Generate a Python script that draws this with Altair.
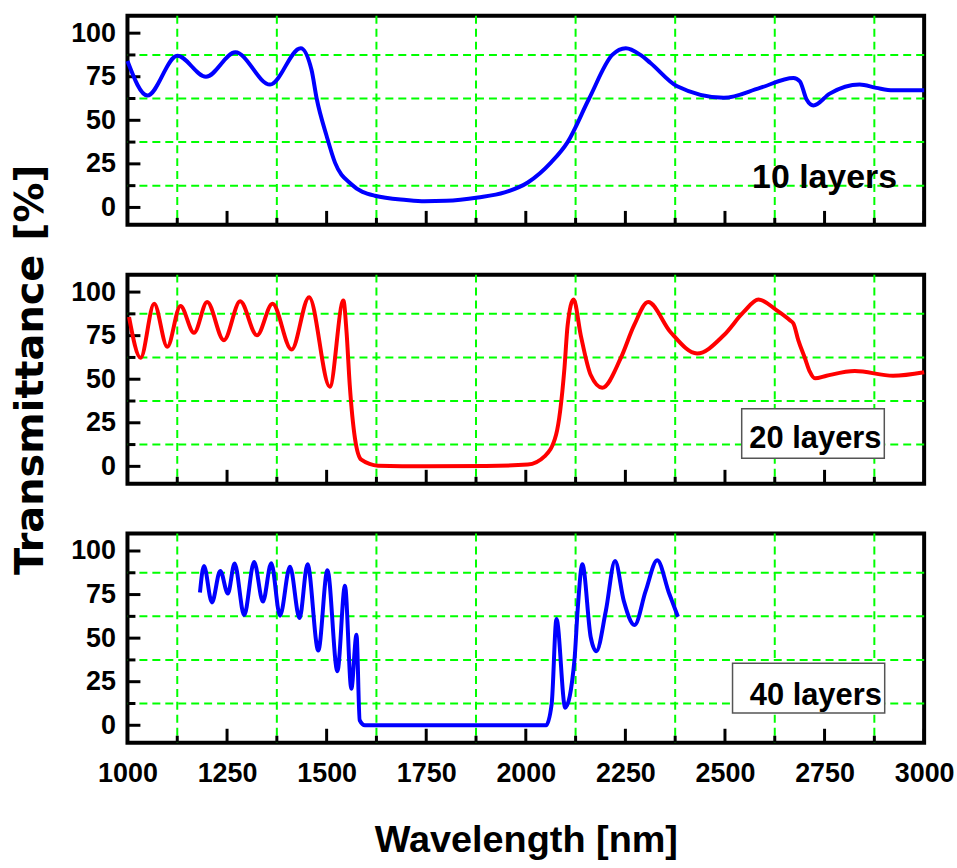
import altair as alt
import pandas as pd

# ---------------- data ----------------
wl_10 = [1000, 1050, 1125, 1197, 1271, 1358, 1435, 1462, 1475, 1500, 1521, 1562, 1621,
         1700, 1746, 1800, 1880, 1947, 2005, 2063, 2105, 2159, 2217, 2251, 2288, 2313,
         2380, 2497, 2588, 2672, 2688, 2705, 2722, 2763, 2838, 2880, 2922, 3000]
t_10 = [84, 64.2, 87, 75, 89, 70.5, 91.4, 79, 62.5, 41, 25.7, 13.3, 6.7,
        4.3, 3.6, 3.8, 5.7, 8.6, 14.3, 25.7, 37.5, 62.5, 87.5, 91.4, 87.5, 82.9,
        69.5, 62.9, 68.6, 74.3, 72.4, 61.9, 58.5, 65.3, 70.5, 68.6, 67.2, 67.2]

wl_20 = [1004, 1033, 1067, 1100, 1133, 1167, 1200, 1242, 1283, 1325, 1364, 1412, 1456,
         1508, 1542, 1550, 1558, 1571, 1587, 1629, 1750, 1900, 2005, 2047, 2076,
         2097, 2105, 2120, 2138, 2163, 2192, 2238, 2272, 2307, 2363, 2430, 2497, 2547,
         2584, 2630, 2663, 2672, 2684, 2701, 2713, 2726, 2755, 2826, 2922, 3000]
t_20 = [85.7, 62.3, 93.3, 68.6, 92, 76.6, 94.3, 72.4, 94.7, 75.2, 93.3, 67, 97.1,
        45.7, 95.2, 77, 46.7, 16.2, 3.8, 0.4, 0.1, 0.2, 1, 5.7, 18.1,
        56.2, 81, 95.8, 75.2, 52.4, 45.1, 61.9, 81, 94.3, 77.1, 64.8, 75.2, 88.6,
        95.8, 89.5, 83.8, 81.9, 72.4, 61.9, 54.3, 50.5, 52, 54.7, 52, 54]

wl_40 = [1182, 1192, 1212, 1233, 1252, 1269, 1293, 1318, 1340, 1361, 1383, 1408, 1432,
         1452, 1479, 1502, 1527, 1546, 1562, 1575, 1583, 1596, 1800, 2051, 2065, 2077,
         2099, 2122, 2130, 2142, 2163, 2177, 2201, 2224, 2246, 2273, 2301, 2330, 2359, 2382]
t_40 = [76.2, 91.4, 70.5, 88.6, 75.6, 92.8, 63.2, 93.7, 71, 93, 62.9, 91, 61.5,
        92.4, 42.9, 89, 31, 80, 21, 52, 2.9, 0, 0, 0, 12.4, 61,
        10.1, 37, 65.7, 92.4, 50.5, 42.5, 65.7, 94.3, 71.4, 57.5, 77.1, 94.7, 76.2, 62.3]

x_major = [1000, 1250, 1500, 1750, 2000, 2250, 2500, 2750, 3000]
x_minor = [1125, 1375, 1625, 1875, 2125, 2375, 2625, 2875]
y_major = [0, 25, 50, 75, 100]
y_minor = [12.5, 37.5, 62.5, 87.5]

# ---------------- styling ----------------
FONT_H = "Liberation Sans, Arial, sans-serif"
FONT_V = "DejaVu Sans, Verdana, sans-serif"
W, H = 800, 210
xs = alt.Scale(domain=[1000, 3000], nice=False, zero=False)
ys = alt.Scale(domain=[-10, 110], nice=False, zero=False)
GREEN = "#00ff00"


def make_panel(wl, t, color, label, label_size, label_x, label_y, box=None,
               show_x=False, show_ytitle=False):
    if show_x:
        xaxis = alt.Axis(values=x_major, format="d", ticks=False, tickSize=0, domain=False,
                         grid=False, labelFont=FONT_H, labelFontSize=27,
                         labelFontWeight="bold", labelColor="black", labelPadding=18,
                         labelFlush=False, title="Wavelength [nm]", titleFont=FONT_H,
                         titleFontSize=38, titleFontWeight="bold", titleColor="black",
                         titlePadding=35)
    else:
        xaxis = None
    if show_ytitle:
        yaxis = alt.Axis(values=y_major, ticks=False, tickSize=0, domain=False, grid=False,
                         labelFont=FONT_H, labelFontSize=27, labelFontWeight="bold",
                         labelColor="black", labelPadding=12,
                         title="Transmittance [%]",
                         titleFont=FONT_V, titleFontSize=40, titleFontWeight="bold",
                         titleColor="black", titlePadding=20, titleY=95)
    else:
        yaxis = alt.Axis(values=y_major, ticks=False, tickSize=0, domain=False, grid=False,
                         labelFont=FONT_H, labelFontSize=27, labelFontWeight="bold",
                         labelColor="black", labelPadding=12, title=None)

    xmaj = pd.DataFrame({"v": x_major})
    xmin = pd.DataFrame({"v": x_minor})
    ymaj = pd.DataFrame({"v": y_major})
    ymin = pd.DataFrame({"v": y_minor})
    df = pd.DataFrame({"wl": wl, "t": t})

    gx = alt.Chart(xmin).mark_rule(color=GREEN, strokeWidth=2, strokeDash=[8, 5]).encode(
        x=alt.X("v:Q", scale=xs, axis=xaxis))
    gy = alt.Chart(ymin).mark_rule(color=GREEN, strokeWidth=2, strokeDash=[8, 5]).encode(
        y=alt.Y("v:Q", scale=ys, axis=yaxis))
    tx1 = alt.Chart(xmaj).mark_rule(color="black", strokeWidth=3).encode(
        x=alt.X("v:Q", scale=xs, axis=xaxis), y=alt.value(H), y2=alt.value(H - 14))
    tx2 = alt.Chart(xmin).mark_rule(color="black", strokeWidth=3).encode(
        x=alt.X("v:Q", scale=xs, axis=xaxis), y=alt.value(H), y2=alt.value(H - 7))
    ty1 = alt.Chart(ymaj).mark_rule(color="black", strokeWidth=3).encode(
        y=alt.Y("v:Q", scale=ys, axis=yaxis), x=alt.value(0), x2=alt.value(13))
    ty2 = alt.Chart(ymin).mark_rule(color="black", strokeWidth=3).encode(
        y=alt.Y("v:Q", scale=ys, axis=yaxis), x=alt.value(0), x2=alt.value(8))

    layers = [gx, gy, tx1, tx2, ty1, ty2]
    if box is not None:
        bdf = pd.DataFrame({"v": [box[0]], "v2": [box[1]], "w": [box[2]], "w2": [box[3]]})
        bx = alt.Chart(bdf).mark_rect(fill="white", stroke="#555555", strokeWidth=1.5).encode(
            x=alt.X("v:Q", scale=xs, axis=xaxis), x2="v2:Q",
            y=alt.Y("w:Q", scale=ys, axis=yaxis), y2="w2:Q")
        layers.append(bx)
    tdf = pd.DataFrame({"v": [label_x], "w": [label_y], "s": [label]})
    txt = alt.Chart(tdf).mark_text(font=FONT_H, fontSize=label_size, fontWeight="bold",
                                   color="black", align="center", baseline="alphabetic").encode(
        x=alt.X("v:Q", scale=xs, axis=xaxis), y=alt.Y("w:Q", scale=ys, axis=yaxis),
        text="s:N")
    layers.append(txt)
    line = alt.Chart(df).mark_line(color=color, strokeWidth=4, interpolate="monotone").encode(
        x=alt.X("wl:Q", scale=xs, axis=xaxis), y=alt.Y("t:Q", scale=ys, axis=yaxis))
    layers.append(line)
    return alt.layer(*layers).properties(width=W, height=H)


p1 = make_panel(wl_10, t_10, "#0000ff", "10 layers", 34, 2750, 11)
p2 = make_panel(wl_20, t_20, "#ff0000", "20 layers", 31, 2727, 10.5,
                box=(2542, 2900, 33, 4.6), show_ytitle=True)
p3 = make_panel(wl_40, t_40, "#0000ff", "40 layers", 31, 2728, 11.4,
                box=(2519, 2901, 35.6, 7), show_x=True)

chart = alt.vconcat(p1, p2, p3, spacing=50, bounds="flush").properties(
    padding={"left": 8, "top": 11, "right": 0, "bottom": 0},
    background="white",
).configure_view(stroke="black", strokeWidth=4)

chart.save("out.html", embed_options={"renderer": "svg", "actions": False})
